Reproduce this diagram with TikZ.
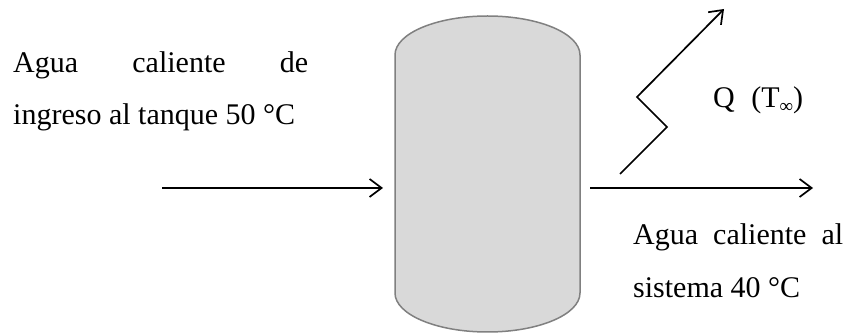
\documentclass[tikz,border=0pt]{standalone}
\usepackage{fontspec}
\setmainfont{Liberation Serif}
\usetikzlibrary{arrows.meta}
\begin{document}
\begin{tikzpicture}[x=1pt,y=-1pt,
  flow/.style={line width=1.7pt,-{Straight Barb[length=12pt,width=18pt,line width=1.7pt]}},
  lbl/.style={anchor=base west,inner sep=0pt,font=\fontsize{30}{36}\selectfont},
  tankstyle/.style={fill=black!15,draw=black!50,line width=1.5pt}]
\useasboundingbox (0,0) rectangle (855,336);
% tank
\draw[tankstyle] (395,55) arc[start angle=180,end angle=0,x radius=92.5pt,y radius=39pt]
  -- (580,293) arc[start angle=0,end angle=-180,x radius=92.5pt,y radius=39pt] -- cycle;
\coordinate (tankW) at (383,188);
\coordinate (tankE) at (590,188);
\coordinate (inS) at (162,188);
\coordinate (outE) at (813,188);
\draw[flow] (inS) -- (tankW);
\draw[flow] (tankE) -- (outE);
% heat loss zigzag
\coordinate (z0) at (620,174);
\coordinate (z1) at (667,127);
\coordinate (z2) at (637,97);
\coordinate (z3) at (724,9);
\draw[flow,line join=miter] (z0) -- (z1) -- (z2) -- (z3);
% labels
\node[lbl] (inA) at (13,73) {\makebox[295pt][s]{Agua caliente de}};
\node[lbl] (inB) at (13,125) {ingreso al tanque 50 °C};
\node[lbl] (q) at (713,108) {Q\hspace{0.55em}(T\raisebox{-5pt}{\fontsize{19}{19}\selectfont ∞})};
\node[lbl] (outA) at (633,245) {\makebox[210pt][s]{Agua caliente al}};
\node[lbl] (outB) at (633,298) {sistema 40 °C};
\end{tikzpicture}
\end{document}
